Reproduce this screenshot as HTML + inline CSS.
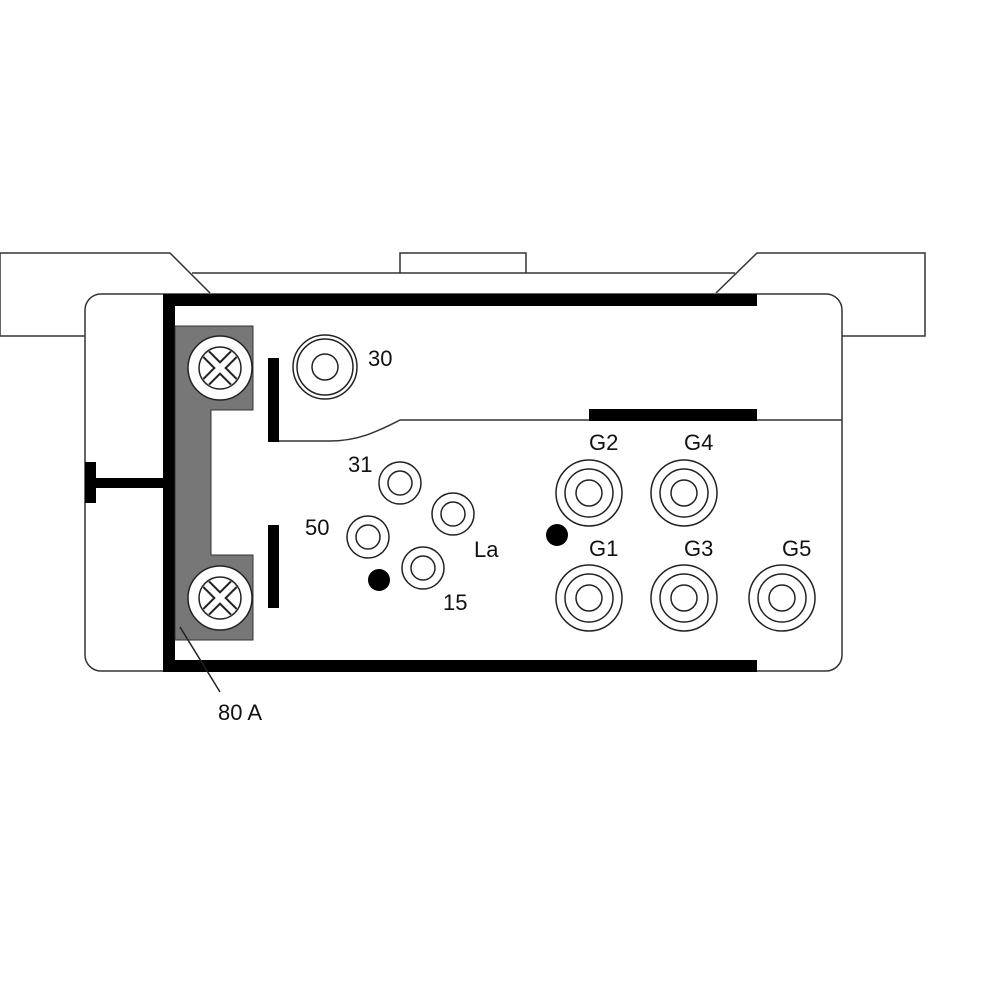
<!DOCTYPE html>
<html><head><style>html,body{margin:0;padding:0;background:#fff}svg{display:block}</style></head><body>
<svg width="1000" height="1000" viewBox="0 0 1000 1000" xmlns="http://www.w3.org/2000/svg" font-family="Liberation Sans, sans-serif">
<defs>
<clipPath id="c1"><circle cx="220" cy="368" r="20"/></clipPath>
<clipPath id="c2"><circle cx="220" cy="598" r="20"/></clipPath>
</defs>
<g fill="none" stroke="#333" stroke-width="1.5">
<path d="M85,336 H0 V253 H170 L210,293"/>
<path d="M842,336 H925 V253 H757 L716,293"/>
<path d="M192,273 H735"/>
<path d="M400,273 V253 H526 V273"/>
<rect x="85" y="294" width="757" height="377" rx="16" fill="#fff"/>
</g>
<!-- black frame -->
<rect x="163" y="294" width="12" height="378" fill="#000"/>
<rect x="163" y="294" width="594" height="12" fill="#000"/>
<rect x="163" y="660" width="594" height="12" fill="#000"/>
<rect x="85" y="478" width="78" height="10" fill="#000"/>
<rect x="85" y="462" width="11" height="41" fill="#000"/>
<!-- gray bracket -->
<path d="M175,326 H253 V410 H211 V555 H253 V640 H175 Z" fill="#777" stroke="#333" stroke-width="1"/>
<g stroke="#222" stroke-width="1.5">
<circle cx="220" cy="368" r="32" fill="#fff"/>
<circle cx="220" cy="368" r="21" fill="#fff"/>
<circle cx="220" cy="598" r="32" fill="#fff"/>
<circle cx="220" cy="598" r="21" fill="#fff"/>
</g>
<g clip-path="url(#c1)">
<path d="M200,348 L240,388 M240,348 L200,388" stroke="#222" stroke-width="10"/>
<path d="M200,348 L240,388 M240,348 L200,388" stroke="#fff" stroke-width="6"/>
</g>
<g clip-path="url(#c2)">
<path d="M200,578 L240,618 M240,578 L200,618" stroke="#222" stroke-width="10"/>
<path d="M200,578 L240,618 M240,578 L200,618" stroke="#fff" stroke-width="6"/>
</g>
<!-- vertical bars -->
<rect x="268" y="358" width="11" height="84" fill="#000"/>
<rect x="268" y="525" width="11" height="83" fill="#000"/>
<path d="M279,441 H330 C360,441 380,430 400,420 H842" fill="none" stroke="#333" stroke-width="1.5"/>
<rect x="589" y="409" width="168" height="12" fill="#000"/>
<!-- pins -->
<g fill="none" stroke="#222" stroke-width="1.5">
<circle cx="325" cy="367" r="32"/><circle cx="325" cy="367" r="28"/><circle cx="325" cy="367" r="13"/>
<circle cx="400" cy="483" r="21"/><circle cx="400" cy="483" r="12"/>
<circle cx="453" cy="514" r="21"/><circle cx="453" cy="514" r="12"/>
<circle cx="368" cy="537" r="21"/><circle cx="368" cy="537" r="12"/>
<circle cx="423" cy="568" r="21"/><circle cx="423" cy="568" r="12"/>
<circle cx="589" cy="493" r="33"/><circle cx="589" cy="493" r="24"/><circle cx="589" cy="493" r="13"/>
<circle cx="684" cy="493" r="33"/><circle cx="684" cy="493" r="24"/><circle cx="684" cy="493" r="13"/>
<circle cx="589" cy="598" r="33"/><circle cx="589" cy="598" r="24"/><circle cx="589" cy="598" r="13"/>
<circle cx="684" cy="598" r="33"/><circle cx="684" cy="598" r="24"/><circle cx="684" cy="598" r="13"/>
<circle cx="782" cy="598" r="33"/><circle cx="782" cy="598" r="24"/><circle cx="782" cy="598" r="13"/>
</g>
<circle cx="379" cy="580" r="11" fill="#000"/>
<circle cx="557" cy="535" r="11" fill="#000"/>
<path d="M180,627 L220,692" stroke="#222" stroke-width="1.5"/>
<g font-size="22" fill="#111">
<text x="368" y="366">30</text>
<text x="348" y="472">31</text>
<text x="305" y="535">50</text>
<text x="474" y="557">La</text>
<text x="443" y="610">15</text>
<text x="589" y="450">G2</text>
<text x="684" y="450">G4</text>
<text x="589" y="556">G1</text>
<text x="684" y="556">G3</text>
<text x="782" y="556">G5</text>
<text x="218" y="720">80 A</text>
</g>
</svg>
</body></html>
